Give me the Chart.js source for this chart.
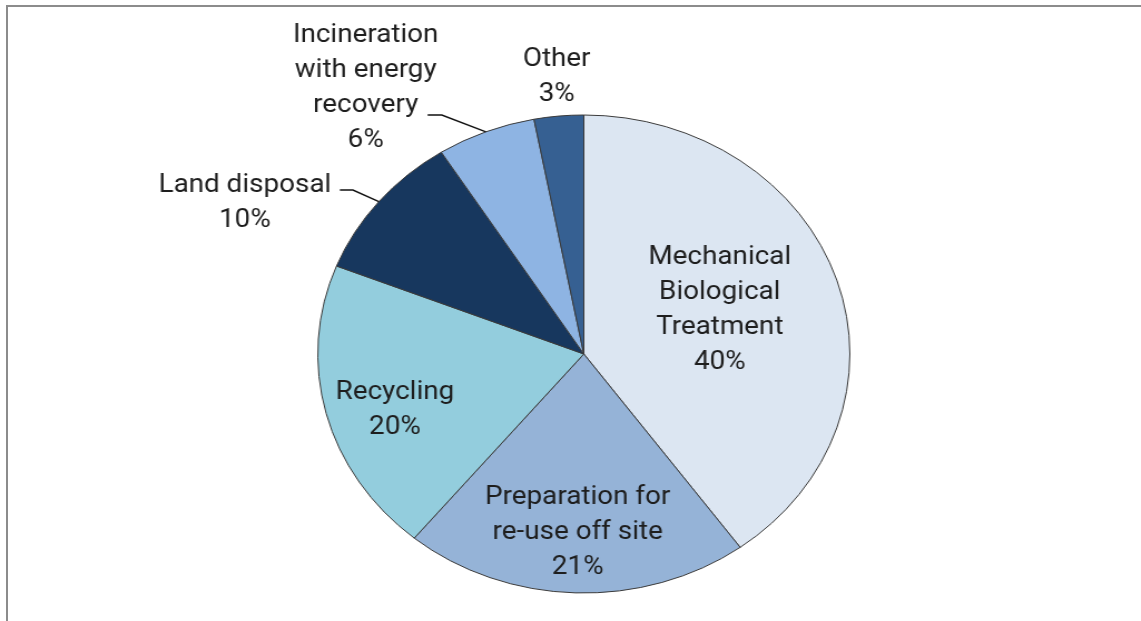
<!DOCTYPE html>
<html>
<head>
<meta charset="utf-8">
<script src="https://cdn.jsdelivr.net/npm/chart.js@4/dist/chart.umd.min.js"></script>
<style>
  html, body { margin: 0; padding: 0; background: #fff; overflow: hidden; }
  body { width: 1141px; height: 621px; position: relative; }
  .frame {
    position: absolute; left: 6px; top: 5px; width: 1300px; height: 800px;
    border-left: 2px solid #8c8c8c; border-top: 2px solid #8c8c8c;
  }
  /* the original picture is stretched sideways, so the pie is an ellipse */
  .stretch { position: absolute; left: 0; top: 0; transform: scaleX(1.1131); transform-origin: 0 0; }
</style>
</head>
<body>
<div class="frame"></div>
<div class="stretch"><canvas id="pie" width="1025" height="621"></canvas></div>
<script>
const categories = [
  'Mechanical Biological Treatment',
  'Preparation for re-use off site',
  'Recycling',
  'Land disposal',
  'Incineration with energy recovery',
  'Other',
];
const shares = [40, 21, 20, 10, 6, 3];
const labelLines = [
  ['Mechanical', 'Biological', 'Treatment'],
  ['Preparation for', 're-use off site'],
  ['Recycling'],
  ['Land disposal'],
  ['Incineration', 'with energy', 'recovery'],
  ['Other'],
];

const sliceColors = ['#dce6f2', '#95b3d7', '#93cddd', '#17375e', '#8eb4e3', '#366092'];

// label block centres, in pie radii from the centre
const labelPlacement = [
  { dx: 0.511,  dy: -0.195 },
  { dx: -0.023, dy: 0.736 },
  { dx: -0.710, dy: 0.224 },
  { dx: -1.274, dy: -0.644, leader: [[-0.917, -0.686], [-0.868, -0.686]] },
  { dx: -0.820, dy: -1.123, leader: [[-0.587, -1.0], [-0.534, -1.0]] },
  { dx: -0.102, dy: -1.169 },
];

const FONT = '25px Roboto, "Open Sans", sans-serif';
const LINE_H = 35;
const TEXT_NUDGE = 3; // roboto sits a little high with 'middle'

const pieLabels = {
  id: 'pieLabels',
  afterDatasetsDraw(chart) {
    const ctx = chart.ctx;
    const arcs = chart.getDatasetMeta(0).data;
    ctx.save();
    ctx.font = FONT;
    ctx.fillStyle = '#1e1e1e';
    ctx.strokeStyle = '#111';
    ctx.lineWidth = 1.4;
    ctx.textAlign = 'center';
    ctx.textBaseline = 'middle';

    arcs.forEach((arc, i) => {
      const { x, y, outerRadius: r, startAngle, endAngle } = arc;
      const p = labelPlacement[i];

      if (p.leader) {
        const mid = (startAngle + endAngle) / 2;
        ctx.beginPath();
        ctx.moveTo(x + p.leader[0][0] * r, y + p.leader[0][1] * r);
        ctx.lineTo(x + p.leader[1][0] * r, y + p.leader[1][1] * r);
        ctx.lineTo(x + Math.cos(mid) * r, y + Math.sin(mid) * r);
        ctx.stroke();
      }

      const lines = [...labelLines[i], shares[i] + '%'];
      const cx = x + p.dx * r;
      const top = y + p.dy * r - (lines.length - 1) * LINE_H / 2 + TEXT_NUDGE;
      lines.forEach((t, k) => ctx.fillText(t, cx, top + k * LINE_H));
    });
    ctx.restore();
  },
};

new Chart(document.getElementById('pie'), {
  type: 'pie',
  data: {
    labels: categories,
    datasets: [{
      data: shares,
      backgroundColor: sliceColors,
      borderColor: '#3a3a3a',
      borderWidth: 1,
    }],
  },
  options: {
    responsive: false,
    animation: false,
    radius: 239,
    layout: { padding: { left: 24, right: 0, top: 115, bottom: 28 } },
    plugins: {
      legend: { display: false },
      tooltip: { enabled: false },
    },
    events: [],
  },
  plugins: [pieLabels],
});
</script>
</body>
</html>
